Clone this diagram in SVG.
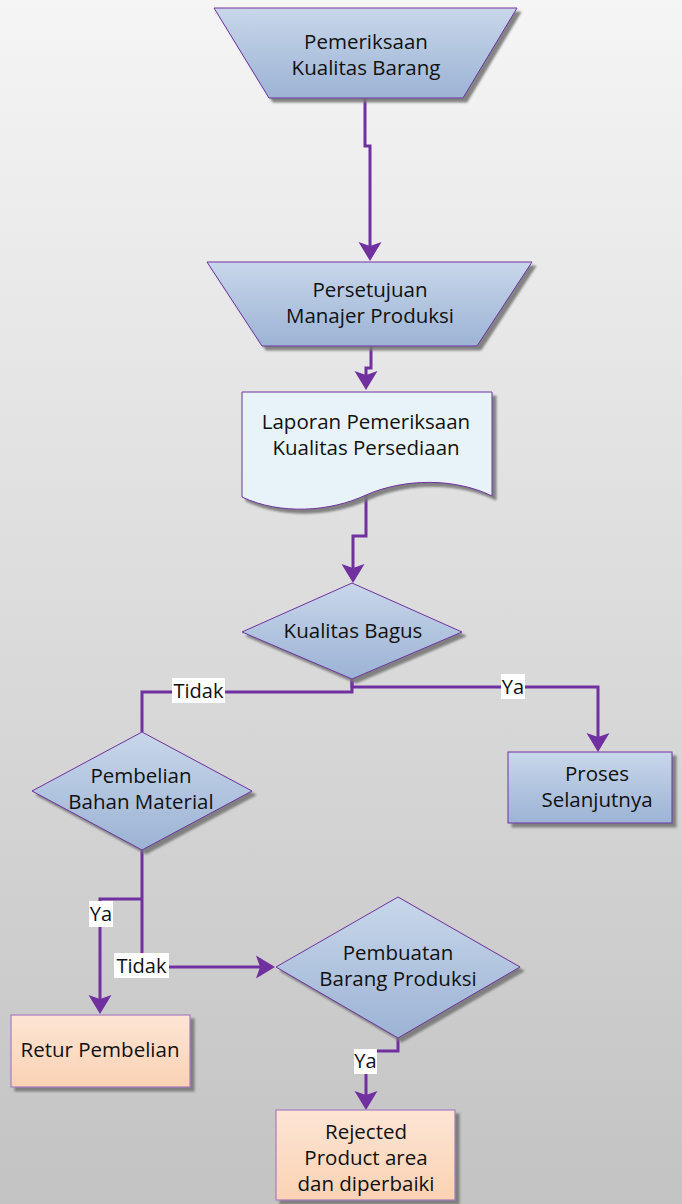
<svg xmlns="http://www.w3.org/2000/svg" width="682" height="1204" viewBox="0 0 682 1204">
  <defs>
    <linearGradient id="bg" x1="0" y1="0" x2="0" y2="1">
      <stop offset="0" stop-color="#f5f5f5"/>
      <stop offset="1" stop-color="#c3c3c3"/>
    </linearGradient>
    <linearGradient id="blue" x1="0" y1="0" x2="0" y2="1">
      <stop offset="0" stop-color="#c8d7ea"/>
      <stop offset="1" stop-color="#9cb3d5"/>
    </linearGradient>
    <linearGradient id="peach" x1="0" y1="0" x2="0" y2="1">
      <stop offset="0" stop-color="#fde5d4"/>
      <stop offset="1" stop-color="#fad2b4"/>
    </linearGradient>
    <filter id="shadow" x="-10%" y="-10%" width="130%" height="130%">
      <feGaussianBlur in="SourceAlpha" stdDeviation="1"/>
      <feOffset dx="4" dy="4" result="off"/>
      <feFlood flood-color="#777777" flood-opacity="0.9"/>
      <feComposite in2="off" operator="in"/>
      <feMerge>
        <feMergeNode/>
        <feMergeNode in="SourceGraphic"/>
      </feMerge>
    </filter>
    <marker id="arrow" markerUnits="userSpaceOnUse" markerWidth="30" markerHeight="30" viewBox="-12 -15 30 30" refX="0" refY="0" orient="auto">
      <path d="M-9,-11.5 L10,0 L-9,11.5 L-5,0 Z" fill="#7030a0"/>
    </marker>
  </defs>
  <style>
    .shape { fill: url(#blue); stroke: #7030a0; stroke-width: 1; filter: url(#shadow); }
    .doc { fill: #e8f3f9; stroke: #7030a0; stroke-width: 1; filter: url(#shadow); }
    .peach { fill: url(#peach); stroke: #a77cc0; stroke-width: 1.2; filter: url(#shadow); }
    .txt { font-family: "Open Sans", "Liberation Sans", sans-serif; font-size: 20.5px; fill: #111; text-anchor: middle; }
    .lbl { font-family: "Open Sans", "Liberation Sans", sans-serif; font-size: 20px; fill: #111; text-anchor: middle; }
    .conn { fill: none; stroke: #7030a0; stroke-width: 3; }
    .lblbg { fill: #ffffff; }
  </style>

  <rect x="0" y="0" width="682" height="1204" fill="url(#bg)"/>

  <!-- connectors with their branch labels -->
  <g id="connectors">
    <path class="conn" d="M365,98 V146 H370 V251" marker-end="url(#arrow)"/>
    <path class="conn" d="M371,346 V368 H366 V380" marker-end="url(#arrow)"/>
    <path class="conn" d="M366,494 V536 H353 V573" marker-end="url(#arrow)"/>
    <path class="conn" d="M352,679 V692 H142 V732"/>
    <path class="conn" d="M352,679 V687 H598 V742" marker-end="url(#arrow)"/>
    <path class="conn" d="M142,850 V967 H265" marker-end="url(#arrow)"/>
    <path class="conn" d="M142,899 H100 V1004" marker-end="url(#arrow)"/>
    <path class="conn" d="M398,1038 V1051 H366 V1100" marker-end="url(#arrow)"/>

    <rect class="lblbg" x="172" y="678" width="53" height="25"/>
    <text class="lbl" x="198.5" y="698">Tidak</text>
    <rect class="lblbg" x="501" y="674" width="24" height="25"/>
    <text class="lbl" x="513" y="694">Ya</text>
    <rect class="lblbg" x="89" y="901" width="24" height="26"/>
    <text class="lbl" x="101" y="921">Ya</text>
    <rect class="lblbg" x="114" y="953" width="55" height="25"/>
    <text class="lbl" x="141.5" y="973">Tidak</text>
    <rect class="lblbg" x="354" y="1049" width="23" height="25"/>
    <text class="lbl" x="365.5" y="1068">Ya</text>
  </g>

  <g id="pemeriksaan">
    <polygon class="shape" points="214,8 517,8 463,98 269,98"/>
    <text class="txt" x="366" y="49">Pemeriksaan</text>
    <text class="txt" x="366" y="75">Kualitas Barang</text>
  </g>

  <g id="persetujuan">
    <polygon class="shape" points="207,262 532,262 477,346 262,346"/>
    <text class="txt" x="370" y="297">Persetujuan</text>
    <text class="txt" x="370" y="323">Manajer Produksi</text>
  </g>

  <g id="laporan">
    <path class="doc" d="M242,392 H492 V496 C455,478 405,478 366,495 C330,512 280,515 242,497 Z"/>
    <text class="txt" x="366" y="429">Laporan Pemeriksaan</text>
    <text class="txt" x="366" y="455">Kualitas Persediaan</text>
  </g>

  <g id="kualitas-bagus">
    <polygon class="shape" points="352,583 462,632 352,679 242,632"/>
    <text class="txt" x="353" y="638">Kualitas Bagus</text>
  </g>

  <g id="pembelian">
    <polygon class="shape" points="142,732 252,791 142,850 32,791"/>
    <text class="txt" x="141" y="783">Pembelian</text>
    <text class="txt" x="141" y="809">Bahan Material</text>
  </g>

  <g id="proses">
    <rect class="shape" x="508" y="752" width="164" height="71"/>
    <text class="txt" x="597" y="781">Proses</text>
    <text class="txt" x="597" y="807">Selanjutnya</text>
  </g>

  <g id="pembuatan">
    <polygon class="shape" points="398,897 520,967 398,1038 276,967"/>
    <text class="txt" x="398" y="960">Pembuatan</text>
    <text class="txt" x="398" y="986">Barang Produksi</text>
  </g>

  <g id="retur">
    <rect class="peach" x="11" y="1015" width="179" height="72"/>
    <text class="txt" x="100" y="1057">Retur Pembelian</text>
  </g>

  <g id="rejected">
    <rect class="peach" x="276" y="1110" width="179" height="90"/>
    <text class="txt" x="366" y="1139">Rejected</text>
    <text class="txt" x="366" y="1165">Product area</text>
    <text class="txt" x="366" y="1191">dan diperbaiki</text>
  </g>
</svg>
